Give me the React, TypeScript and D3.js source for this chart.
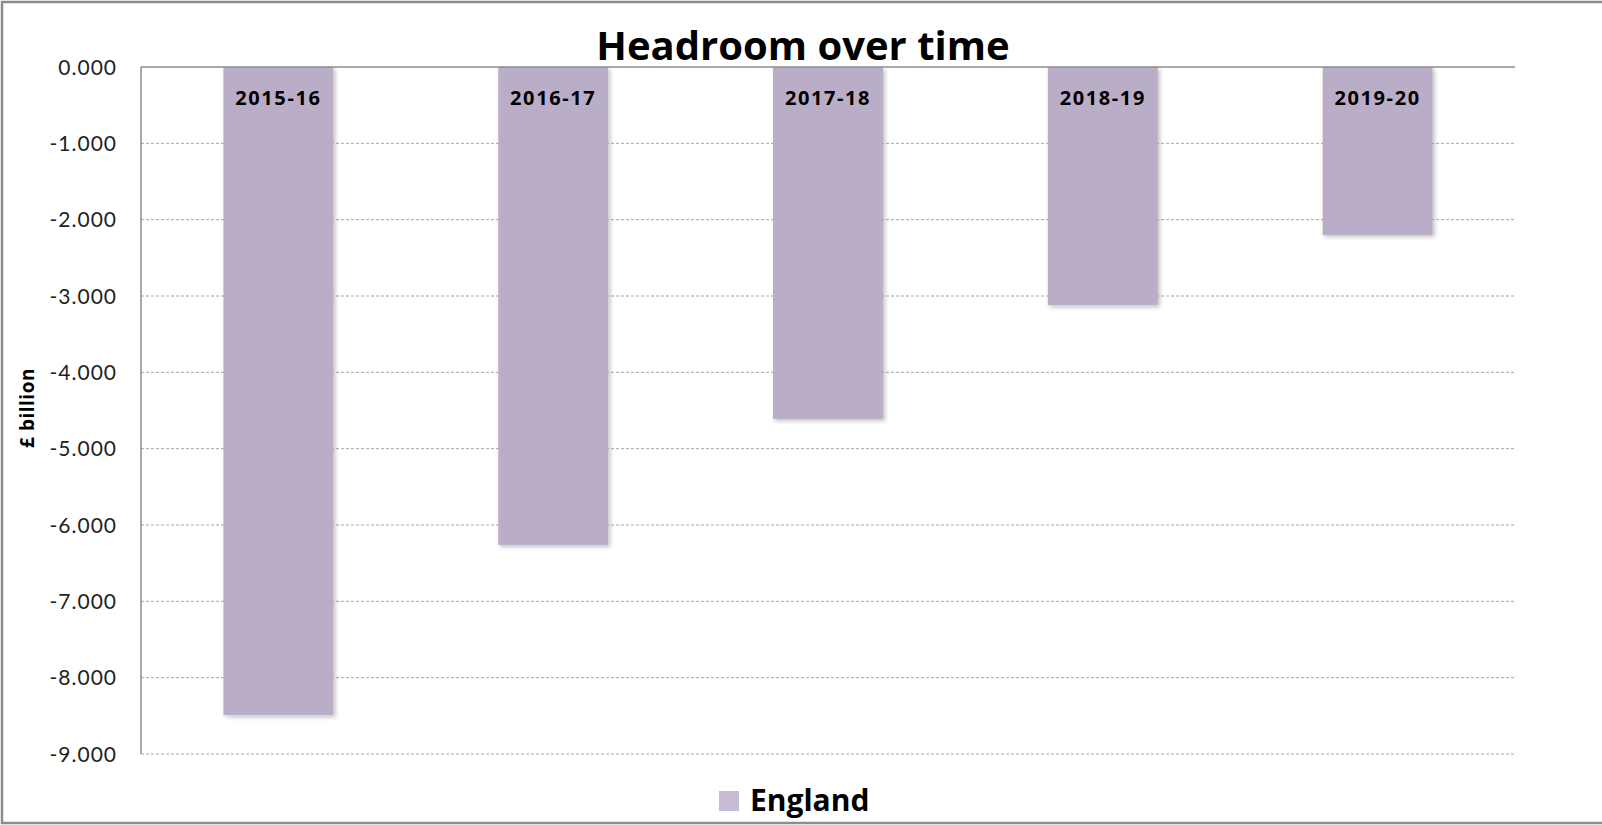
import React from "react";
import * as d3 from "d3";

// Headroom by financial year, £ billion (England)
const years = ["2015-16", "2016-17", "2017-18", "2018-19", "2019-20"];
const headroom = [-8.49, -6.26, -4.61, -3.12, -2.2];
const yTicks = [0, -1, -2, -3, -4, -5, -6, -7, -8, -9];
const seriesName = "England";

const W = 1602;
const H = 825;
const plot = { left: 141, right: 1515, top: 67, bottom: 754 };
const barColor = "#BAADC8";
const tickFont = "Lato, 'Open Sans', sans-serif";
const boldFont = "'Open Sans', Lato, sans-serif";

export default function App() {
  const x = d3
    .scaleBand<string>()
    .domain(years)
    .range([plot.left, plot.right])
    .paddingInner(0.6)
    .paddingOuter(0.3);
  const y = d3.scaleLinear().domain([0, -9]).range([plot.top, plot.bottom]);

  return (
    <svg
      width={W}
      height={H}
      style={{ position: "absolute", left: 0, top: 0, background: "#fff" }}
    >
      <defs>
        <filter id="barShadow" x="-10%" y="-5%" width="125%" height="115%">
          <feDropShadow dx="2" dy="2" stdDeviation="2" floodColor="#000" floodOpacity="0.25" />
        </filter>
      </defs>
      {/* chart frame */}
      <rect x={2} y={2} width={W + 10} height={H - 4} fill="none" stroke="#8c8c8c" strokeWidth={2.5} />

      {/* gridlines */}
      {yTicks.slice(1).map((t) => (
        <line
          key={t}
          x1={plot.left}
          x2={plot.right}
          y1={y(t)}
          y2={y(t)}
          stroke="#a6a6a6"
          strokeWidth={1}
          strokeDasharray="3,2"
        />
      ))}

      {/* bars */}
      {years.map((yr, i) => (
        <rect
          key={yr}
          x={x(yr)}
          y={y(0)}
          width={x.bandwidth()}
          height={y(headroom[i]) - y(0)}
          fill={barColor}
          filter="url(#barShadow)"
        />
      ))}

      {/* axes */}
      <line x1={plot.left} x2={plot.right} y1={y(0)} y2={y(0)} stroke="#8c8c8c" strokeWidth={1.5} />
      <line x1={plot.left} x2={plot.left} y1={plot.top} y2={plot.bottom} stroke="#8c8c8c" strokeWidth={1.5} />

      {/* y tick labels */}
      {yTicks.map((t) => (
        <text
          key={t}
          x={117}
          y={y(t)}
          dy="0.36em"
          textAnchor="end"
          fontFamily={tickFont}
          fontSize={21}
          letterSpacing={1}
          fill="#222"
        >
          {d3.format(".3f")(t).replace("−", "-")}
        </text>
      ))}

      {/* category labels inside bars */}
      {years.map((yr) => (
        <text
          key={yr}
          x={(x(yr) as number) + x.bandwidth() / 2}
          y={105}
          textAnchor="middle"
          fontFamily={boldFont}
          fontWeight="bold"
          fontSize={20}
          letterSpacing={1.6}
          fill="#000"
        >
          {yr}
        </text>
      ))}

      {/* y axis title */}
      <text
        transform={`translate(34, 408) rotate(-90)`}
        textAnchor="middle"
        fontFamily={boldFont}
        fontWeight="bold"
        fontSize={19}
        letterSpacing={0.5}
        fill="#000"
      >
        £ billion
      </text>

      {/* chart title */}
      <text
        x={803}
        y={60}
        textAnchor="middle"
        fontFamily={boldFont}
        fontWeight="bold"
        fontSize={40}
        fill="#000"
      >
        Headroom over time
      </text>

      {/* legend */}
      <rect x={719} y={791} width={20} height={20} fill="#C6BAD5" />
      <text x={750} y={811} fontFamily={boldFont} fontWeight="bold" fontSize={30} fill="#000">
        {seriesName}
      </text>
    </svg>
  );
}
